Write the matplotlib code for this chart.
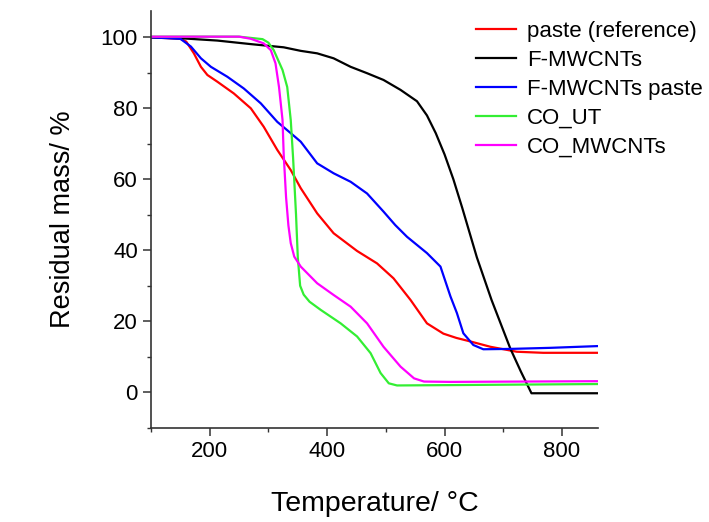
import numpy as np
import matplotlib
matplotlib.use("Agg")
import matplotlib.pyplot as plt
from matplotlib.ticker import MultipleLocator

plt.rcParams['font.family'] = ['Liberation Sans', 'DejaVu Sans']

# paste (reference)
t_paste = [100, 150, 160, 173, 185, 196, 213, 241, 270, 292, 315, 338, 355, 383, 411,
           451, 485, 513, 542, 570, 598, 620, 644, 678, 723, 768, 862]
m_paste = [100, 99.6, 98.8, 95.5, 91.7, 89.4, 87.5, 84.2, 80, 74.8, 68.3, 62.6, 57.5, 50.4, 44.8,
           39.8, 36.3, 32.1, 26, 19.4, 16.5, 15.3, 14.3, 12.8, 11.4, 11.1, 11.1]

# F-MWCNTs
t_fmw = [100, 156, 213, 270, 326, 355, 383, 411, 440, 468, 496, 525, 553, 570, 585,
         600, 615, 630, 655, 680, 712, 730, 748, 760, 862]
m_fmw = [100, 99.7, 99.1, 98.1, 97.2, 96.2, 95.5, 94.1, 91.7, 89.9, 88, 85.2, 82, 78, 73,
         67, 60, 52, 38, 26, 12.3, 5.8, -0.3, -0.3, -0.3]

# F-MWCNTs paste
t_fmwp = [100, 150, 168, 185, 202, 230, 258, 287, 315, 338, 355, 383, 411, 440, 468,
          496, 516, 536, 570, 593, 610, 621, 632, 649, 666, 712, 780, 862]
m_fmwp = [100, 99.6, 97.4, 94.1, 91.7, 88.9, 85.6, 81.4, 76.2, 73, 70.6, 64.5, 61.7, 59.3, 56,
          50.9, 47.1, 43.8, 39.2, 35.4, 27, 22.3, 16.6, 13.3, 12.1, 12.2, 12.5, 13]

# CO_UT
t_co = [100, 250, 290, 300, 309, 324, 332, 338, 342, 347, 350, 354, 360, 370, 389,
        423, 451, 474, 491, 505, 519, 610, 862]
m_co = [100.2, 100.2, 99.5, 98.5, 96.4, 90.8, 86, 76.7, 66, 50, 38, 30, 27.5, 25.5, 23.2,
        19.4, 15.7, 11, 5.4, 2.5, 1.9, 2.0, 2.3]

# CO_MWCNTs
t_com = [100, 250, 270, 292, 304, 312, 318, 324, 326, 330, 334, 338, 344, 355, 383,
         411, 440, 468, 496, 525, 548, 565, 610, 862]
m_com = [100.2, 100.2, 99.6, 98.3, 96.4, 92.7, 86, 76.7, 67, 55, 47, 42, 38.2, 35.4, 30.7,
         27.4, 24.1, 19.4, 12.8, 7.2, 3.9, 3.0, 2.9, 3.1]

fig = plt.figure(figsize=(7.09, 5.22), dpi=100)
ax = fig.add_axes([0.213, 0.1807, 0.631, 0.798])

ax.plot(t_paste, m_paste, color='#ff0000', lw=1.6, label='paste (reference)')
ax.plot(t_fmw, m_fmw, color='#000000', lw=1.6, label='F-MWCNTs')
ax.plot(t_fmwp, m_fmwp, color='#0000ff', lw=1.6, label='F-MWCNTs paste')
ax.plot(t_co, m_co, color='#33ee33', lw=1.6, label='CO_UT')
ax.plot(t_com, m_com, color='#ff00ff', lw=1.6, label='CO_MWCNTs')

ax.set_xlim(100, 862)
ax.set_ylim(-10, 107.4)
ax.xaxis.set_major_locator(MultipleLocator(200))
ax.xaxis.set_minor_locator(MultipleLocator(100))
ax.yaxis.set_major_locator(MultipleLocator(20))
ax.yaxis.set_minor_locator(MultipleLocator(10))

for s in ['top', 'right']:
    ax.spines[s].set_visible(False)
for s in ['left', 'bottom']:
    ax.spines[s].set_color('#333333')
    ax.spines[s].set_linewidth(1.2)

ax.tick_params(which='major', direction='out', length=5.5, width=1.1, color='#333333',
               labelsize=16, pad=4)
ax.tick_params(which='minor', direction='out', length=3, width=1.0, color='#333333')

ax.set_xlabel('Temperature/ °C', fontsize=20.5, labelpad=21)
ax.set_ylabel('Residual mass/ %', fontsize=19.5, labelpad=18)

fig.legend(loc='upper left', bbox_to_anchor=(0.671, 0.960), frameon=False, fontsize=16,
           handlelength=1.8, handletextpad=0.5, labelspacing=0.36, borderpad=0,
           borderaxespad=0)

fig.savefig('out.png', dpi=100)
